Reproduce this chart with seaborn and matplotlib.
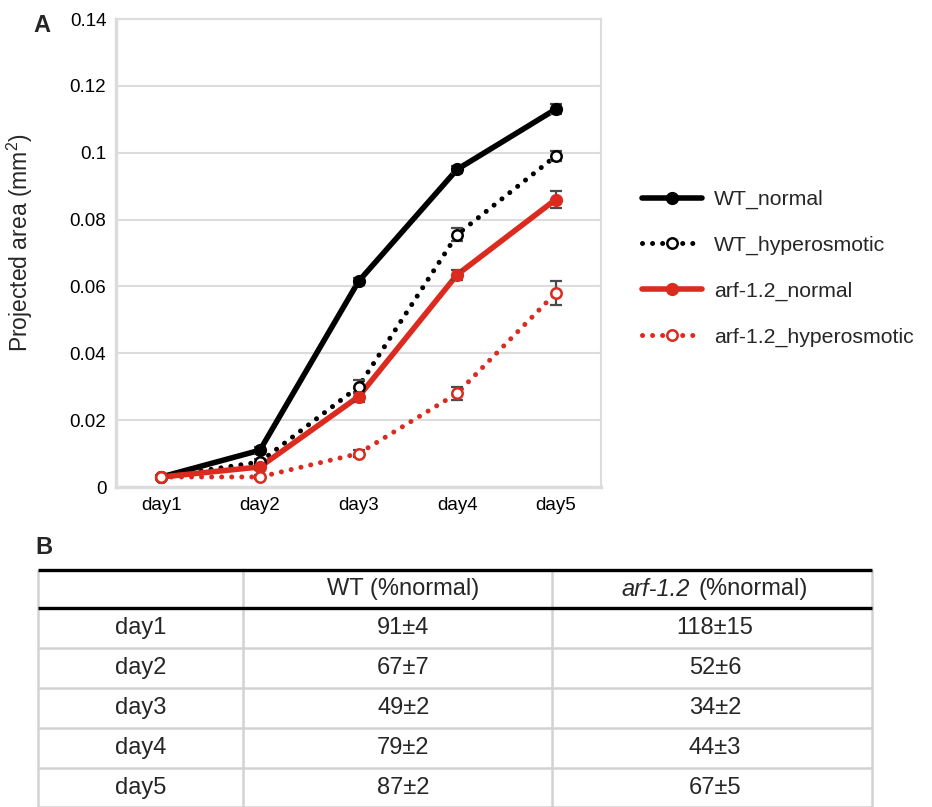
import numpy as np
import pandas as pd
import matplotlib
matplotlib.use("Agg")
import matplotlib.pyplot as plt
import seaborn as sns
from matplotlib.lines import Line2D

# ---------------- data ----------------
days = ["day1", "day2", "day3", "day4", "day5"]
wt_normal = [0.003, 0.011, 0.0615, 0.095, 0.113]
wt_normal_err = [0.0003, 0.0010, 0.0010, 0.0010, 0.0015]
wt_hyper = [0.003, 0.0075, 0.030, 0.0755, 0.099]
wt_hyper_err = [0.0003, 0.0010, 0.0020, 0.0020, 0.0015]
arf_normal = [0.003, 0.006, 0.027, 0.0635, 0.086]
arf_normal_err = [0.0003, 0.0008, 0.0015, 0.0015, 0.0025]
arf_hyper = [0.003, 0.003, 0.010, 0.028, 0.058]
arf_hyper_err = [0.0003, 0.0005, 0.0010, 0.0020, 0.0035]
series_names = ["WT_normal", "WT_hyperosmotic", "arf-1.2_normal", "arf-1.2_hyperosmotic"]
ytick_vals = [0, 0.02, 0.04, 0.06, 0.08, 0.10, 0.12, 0.14]
ytick_labels = ["0", "0.02", "0.04", "0.06", "0.08", "0.1", "0.12", "0.14"]

table_days = ["day1", "day2", "day3", "day4", "day5"]
table_wt = ["91±4", "67±7", "49±2", "79±2", "87±2"]
table_arf = ["118±15", "52±6", "34±2", "44±3", "67±5"]
header_wt = "WT (%normal)"
header_arf_italic = "arf-1.2"
header_arf_rest = "(%normal)"

# ---------------- style ----------------
sns.set_style("white")
plt.rcParams["font.family"] = ["Liberation Sans", "DejaVu Sans"]
plt.rcParams["mathtext.fontset"] = "custom"
plt.rcParams["mathtext.rm"] = "Liberation Sans"
plt.rcParams["mathtext.it"] = "Liberation Sans:italic"

W, H = 932, 807
fig = plt.figure(figsize=(W / 100, H / 100), dpi=100)

def fx(px):
    return px / W

def fy(py):
    return 1 - py / H

left, right, top, bottom = 116, 601, 19, 487
ax = fig.add_axes([fx(left), fy(bottom), fx(right - left), (bottom - top) / H])

x = np.arange(len(days))
red = "#dc2a1e"
styles = [
    dict(y=wt_normal, e=wt_normal_err, color="black", ls="-", hollow=False),
    dict(y=wt_hyper, e=wt_hyper_err, color="black", ls=(0, (0.01, 2.0)), hollow=True),
    dict(y=arf_normal, e=arf_normal_err, color=red, ls="-", hollow=False),
    dict(y=arf_hyper, e=arf_hyper_err, color=red, ls=(0, (0.01, 2.0)), hollow=True),
]

handles = []
for name, st in zip(series_names, styles):
    df = pd.DataFrame({"x": x, "y": st["y"]})
    lw = 4.0 if st["ls"] == "-" else 3.6
    sns.lineplot(data=df, x="x", y="y", ax=ax, color=st["color"], linewidth=lw,
                 linestyle=st["ls"], solid_capstyle="round", dash_capstyle="round",
                 legend=False, zorder=3)
    ax.errorbar(x, st["y"], yerr=st["e"], fmt="none", ecolor="#4a4a4a",
                elinewidth=1.6, capsize=4.5, capthick=1.6, zorder=4)
    if st["hollow"]:
        ax.plot(x, st["y"], linestyle="none", marker="o", markersize=7.5,
                markerfacecolor="white", markeredgecolor=st["color"],
                markeredgewidth=1.8, zorder=5)
        h = Line2D([0], [0], color=st["color"], linewidth=3.6, linestyle=st["ls"],
                   dash_capstyle="round", marker="o", markersize=7.5,
                   markerfacecolor="white", markeredgecolor=st["color"],
                   markeredgewidth=1.8)
    else:
        ax.plot(x, st["y"], linestyle="none", marker="o", markersize=8.5,
                color=st["color"], zorder=5)
        h = Line2D([0], [0], color=st["color"], linewidth=4.0, solid_capstyle="round",
                   marker="o", markersize=8.5)
    handles.append(h)

ax.set_xlim(-0.46, 4.46)
ax.set_ylim(0, 0.14)
ax.set_yticks(ytick_vals)
ax.set_yticklabels(ytick_labels)
ax.set_xticks(x)
ax.set_xticklabels(days)
ax.set_xlabel("")
ax.set_ylabel("Projected area (mm$^2$)", fontsize=16.5)
ax.yaxis.set_label_coords((35 - left) / (right - left), (bottom - 243) / (bottom - top))
ax.tick_params(axis="both", length=0, labelsize=13.5, pad=7, colors="black")
ax.grid(axis="y", color="#dcdcdc", linewidth=1.5)
ax.grid(axis="x", visible=False)
ax.set_axisbelow(True)
for s in ax.spines.values():
    s.set_color("#dcdcdc")
    s.set_linewidth(1.5)
ax.spines["left"].set_linewidth(2.5)
ax.spines["bottom"].set_linewidth(2.5)

fig.legend(handles, series_names, loc="upper left",
           bbox_to_anchor=(fx(642), fy(190)), frameon=False,
           fontsize=15.3, handlelength=2.8, handletextpad=0.6,
           labelspacing=1.25, numpoints=1, borderpad=0, borderaxespad=0)

fig.text(fx(33), fy(26), "A", fontsize=17, fontweight="bold", va="center", ha="left")
fig.text(fx(35), fy(548), "B", fontsize=17, fontweight="bold", va="center", ha="left")

# ---------------- table ----------------
tax = fig.add_axes([0, 0, 1, (H - 560) / H])
tax.set_xlim(0, W)
tax.set_ylim(H, 560)
tax.axis("off")

cols = [38, 243, 552, 872]
row_lines = [570, 608, 648, 688, 728, 768, 807]
grey = "#d2d2d2"
for cx in cols:
    tax.plot([cx, cx], [570, 807], color=grey, linewidth=1.8, solid_capstyle="butt")
for ry in row_lines[2:]:
    tax.plot([cols[0], cols[-1]], [ry, ry], color=grey, linewidth=1.8, solid_capstyle="butt")
for ry in row_lines[:2]:
    tax.plot([cols[0], cols[-1]], [ry, ry], color="black", linewidth=2.4, solid_capstyle="butt")

centers = [(cols[i] + cols[i + 1]) / 2 for i in range(3)]
fs = 17
hy = (row_lines[0] + row_lines[1]) / 2
tax.text(centers[1] + 6, hy, header_wt, ha="center", va="center", fontsize=fs)

# italic + regular header, centred together
renderer = fig.canvas.get_renderer()
t1 = tax.text(0, hy, header_arf_italic, ha="left", va="center", fontsize=fs, style="italic")
t2 = tax.text(0, hy, header_arf_rest, ha="left", va="center", fontsize=fs)
w1 = t1.get_window_extent(renderer).width
w2 = t2.get_window_extent(renderer).width
gap = 9
total = w1 + gap + w2
start = centers[2] + 3 - total / 2
t1.set_x(start)
t2.set_x(start + w1 + gap)

for i in range(len(table_days)):
    cy = (row_lines[i + 1] + row_lines[i + 2]) / 2
    tax.text(centers[0], cy, table_days[i], ha="center", va="center", fontsize=fs)
    tax.text(centers[1] + 6, cy, table_wt[i], ha="center", va="center", fontsize=fs)
    tax.text(centers[2] + 3, cy, table_arf[i], ha="center", va="center", fontsize=fs)

fig.savefig("out.png", dpi=100)
